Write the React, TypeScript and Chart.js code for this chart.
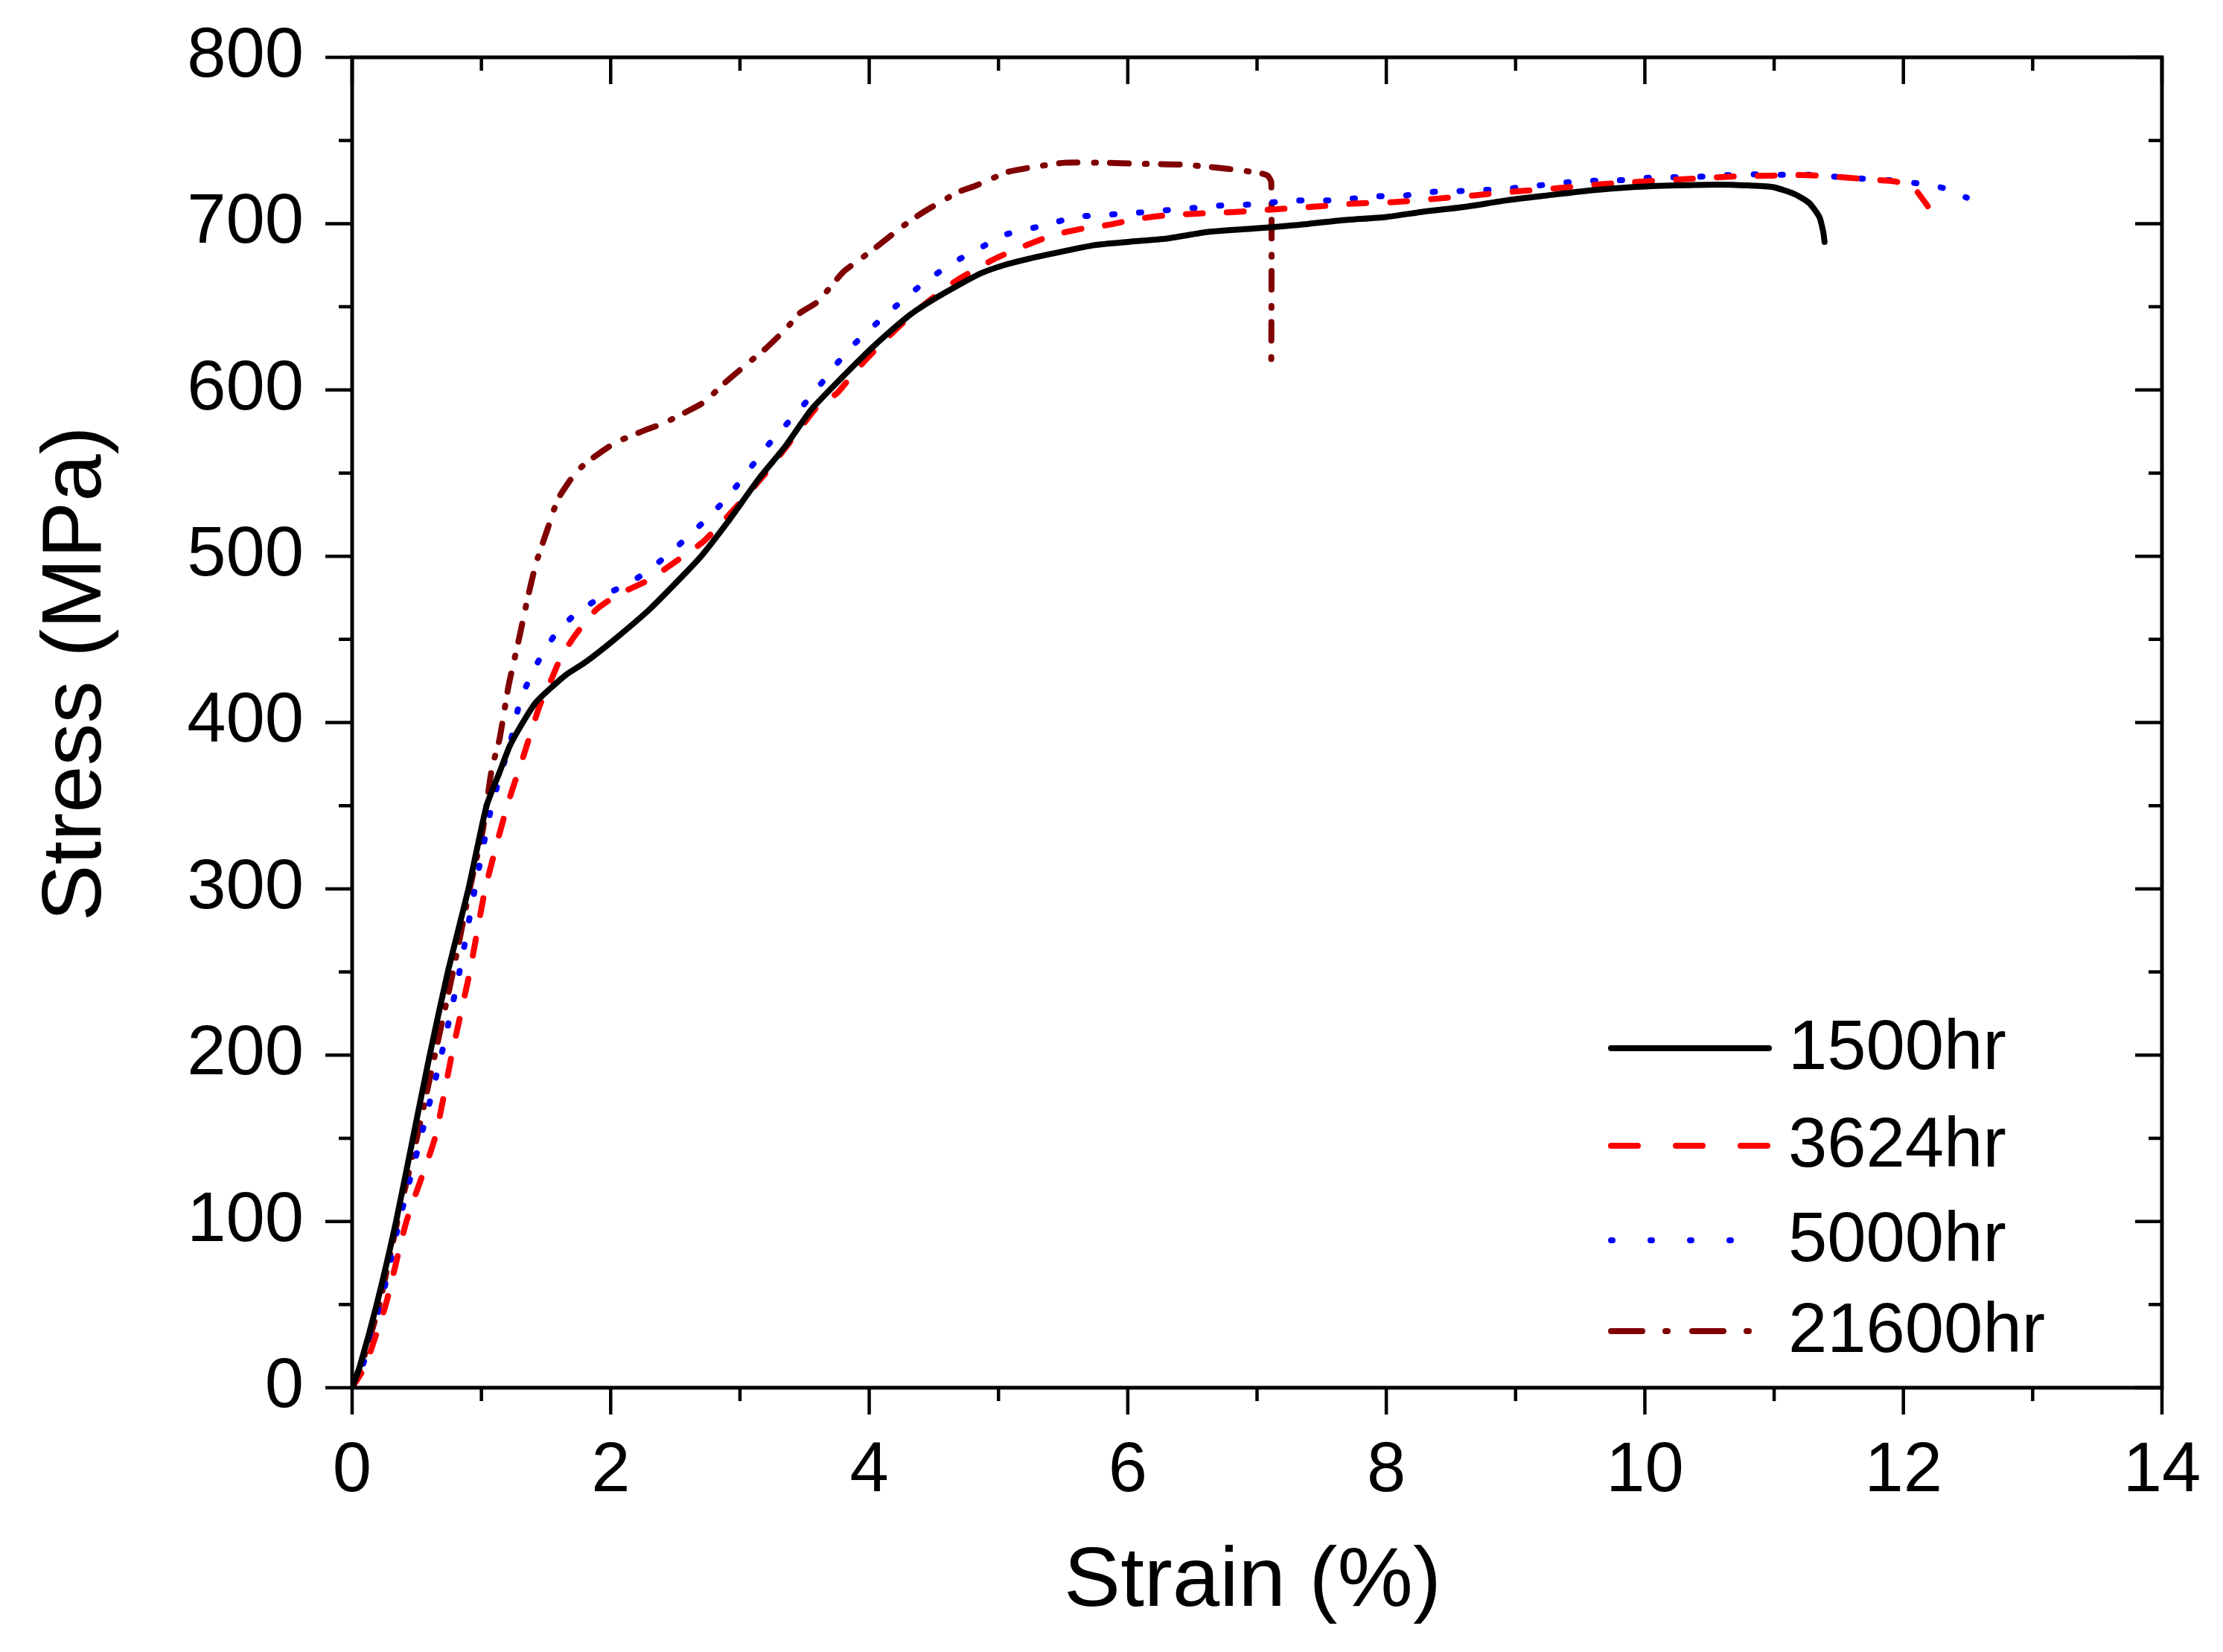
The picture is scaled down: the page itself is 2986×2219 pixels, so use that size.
import { useEffect, useRef } from "react";
import { Chart, registerables } from "chart.js";

Chart.register(...registerables);

const FONT = "'Liberation Sans', Arial, Helvetica, sans-serif";

// strain (%) and stress (MPa)
const strain1500 = [0, 0.06, 0.19, 0.34, 0.47, 0.6, 0.74, 0.9, 1.04, 1.14, 1.22, 1.32, 1.42, 1.54, 1.66, 1.8, 2.03, 2.3, 2.53, 2.7, 2.9, 3.15, 3.35, 3.55, 3.72, 3.95, 4.13, 4.33, 4.51, 4.69, 4.86, 5.04, 5.24, 5.48, 5.74, 6.0, 6.3, 6.62, 6.97, 7.29, 7.65, 8.0, 8.27, 8.6, 8.93, 9.25, 9.58, 9.91, 10.24, 10.57, 10.8, 10.99, 11.16, 11.27, 11.35, 11.38, 11.39];
const stress1500 = [0, 13, 50, 100, 150, 200, 250, 300, 350, 370, 386, 400, 412, 421, 429, 436, 450, 468, 486, 500, 520, 547, 566, 588, 602, 620, 633, 646, 655, 663, 670, 675, 679, 683, 687, 689, 691, 695, 697, 699, 702, 704, 707, 710, 714, 717, 720, 722, 723, 723.5, 723, 722, 717.7, 712.5, 704, 695, 689];

const strain3624 = [0, 0.1, 0.26, 0.42, 0.64, 0.77, 0.91, 1.03, 1.2, 1.33, 1.45, 1.52, 1.62, 1.74, 1.89, 2.06, 2.3, 2.56, 2.72, 2.94, 3.2, 3.38, 3.6, 3.75, 3.9, 4.07, 4.27, 4.42, 4.66, 4.95, 5.15, 5.42, 5.65, 5.83, 6.09, 6.3, 6.53, 6.83, 7.12, 7.41, 7.74, 8.07, 8.39, 8.68, 9.01, 9.34, 9.66, 10.0, 10.32, 10.67, 10.96, 11.1, 11.38, 11.73, 11.93, 12.07, 12.22];
const stress3624 = [0, 13, 50, 100, 150, 200, 250, 300, 350, 381, 410, 422, 440, 454, 468, 477, 486, 500, 509, 527, 550, 568, 590, 598, 612, 626, 641, 651, 665, 678, 685, 693, 697, 699, 703, 705, 706, 707, 708.5, 710, 712, 713, 715, 717, 719.4, 721.4, 723.7, 725.4, 726.8, 728.3, 728.8, 729.3, 728.8, 726.6, 725.4, 722.3, 707];

const strain5000 = [0, 0.08, 0.22, 0.365, 0.53, 0.69, 0.83, 0.95, 1.08, 1.23, 1.3, 1.42, 1.58, 1.74, 1.96, 2.15, 2.35, 2.56, 2.75, 2.91, 3.07, 3.23, 3.39, 3.57, 3.73, 3.89, 4.07, 4.26, 4.45, 4.66, 4.85, 5.04, 5.18, 5.36, 5.59, 5.77, 5.98, 6.15, 6.36, 6.56, 6.74, 6.94, 7.15, 7.35, 7.56, 7.73, 7.94, 8.13, 8.34, 8.52, 8.71, 8.9, 9.08, 9.28, 9.47, 9.65, 9.85, 10.04, 10.24, 10.46, 10.68, 10.88, 11.14, 11.34, 11.51, 11.93, 12.11, 12.31, 12.49];
const stress5000 = [0, 13, 50, 100, 150, 200, 250, 300, 350, 390, 413, 434, 454, 466, 477, 484, 495, 509, 523, 536, 552, 568, 582, 598, 614, 628, 641, 654, 666, 677, 685, 693, 696, 699, 704, 705, 706, 707, 708.5, 709.7, 711, 711.5, 713, 714, 714, 715, 716.5, 716.8, 719, 719.4, 720.2, 720.6, 722.3, 723.7, 725.4, 725.9, 726.2, 727.6, 727.9, 728.3, 729.3, 729.6, 729.3, 729.3, 727.9, 725.9, 724.2, 721.4, 715.6];

const strain21600 = [0, 0.07, 0.21, 0.35, 0.5, 0.64, 0.78, 0.91, 1.01, 1.08, 1.14, 1.21, 1.29, 1.35, 1.42, 1.51, 1.59, 1.68, 1.75, 1.86, 2.03, 2.24, 2.41, 2.59, 2.73, 2.85, 3.03, 3.2, 3.36, 3.46, 3.6, 3.8, 3.92, 4.04, 4.27, 4.42, 4.69, 4.83, 5.07, 5.27, 5.51, 5.8, 6.09, 6.42, 6.77, 7.0, 7.08, 7.11, 7.11];
const stress21600 = [0, 13, 50, 100, 150, 200, 250, 300, 335, 372, 390, 422, 450, 472, 495, 516, 534, 545, 552, 559, 568, 575, 580, 587, 593, 602, 614, 625, 637, 646, 653, 671, 678, 685, 699, 707, 719, 723, 731, 734, 736.6, 736.6, 736, 735.5, 733, 730.7, 729, 725, 612];

const seriesNames = ["1500hr", "3624hr", "5000hr", "21600hr"];
const seriesStrain = [strain1500, strain3624, strain5000, strain21600];
const seriesStress = [stress1500, stress3624, stress5000, stress21600];

const xTickValues = [0, 2, 4, 6, 8, 10, 12, 14];
const yTickValues = [0, 100, 200, 300, 400, 500, 600, 700, 800];

// styles
const colors = ["#000000", "#ff0000", "#0000ff", "#800000"];
const curveDash = [[], [23, 32], [3, 33], [25, 22, 2.5, 19]];
const legendDash = [[], [36, 51], [2, 51], [42, 31, 3, 33]];

const framePlugin = {
  id: "frame",
  afterDraw(chart: any) {
    const { ctx, chartArea: a, scales } = chart;
    const xs = scales.x;
    const ys = scales.y;
    ctx.save();
    ctx.strokeStyle = "#000";
    ctx.lineWidth = 5;
    ctx.strokeRect(a.left, a.top, a.right - a.left, a.bottom - a.top);

    ctx.lineWidth = 4.5;
    ctx.beginPath();
    for (let v = 0; v <= 14; v += 1) {
      const px = xs.getPixelForValue(v);
      const len = v % 2 === 0 ? 36 : 18;
      ctx.moveTo(px, a.bottom);
      ctx.lineTo(px, a.bottom + len);
      ctx.moveTo(px, a.top);
      ctx.lineTo(px, a.top + len);
    }
    for (let v = 0; v <= 800; v += 50) {
      const py = ys.getPixelForValue(v);
      const len = v % 100 === 0 ? 36 : 18;
      ctx.moveTo(a.left, py);
      ctx.lineTo(a.left - len, py);
      ctx.moveTo(a.right, py);
      ctx.lineTo(a.right - len, py);
    }
    ctx.stroke();

    // axis titles
    ctx.fillStyle = "#000";
    ctx.font = `114px ${FONT}`;
    ctx.textAlign = "center";
    ctx.textBaseline = "alphabetic";
    ctx.fillText("Strain (%)", (a.left + a.right) / 2 - 6, 2157);
    ctx.translate(135, 905);
    ctx.rotate(-Math.PI / 2);
    ctx.fillText("Stress (MPa)", 0, 0);
    ctx.restore();

    // legend
    ctx.save();
    ctx.font = `94px ${FONT}`;
    ctx.textAlign = "left";
    ctx.textBaseline = "middle";
    const rows = [1408, 1539, 1666, 1788];
    seriesNames.forEach((name, i) => {
      const y = rows[i];
      ctx.strokeStyle = colors[i];
      ctx.lineWidth = 8;
      ctx.lineCap = "round";
      ctx.setLineDash(legendDash[i]);
      ctx.beginPath();
      ctx.moveTo(2164, y);
      ctx.lineTo(2376, y);
      ctx.stroke();
      ctx.setLineDash([]);
      ctx.fillStyle = "#000";
      ctx.fillText(name, 2402, y + 2);
    });
    ctx.restore();
  },
};

const noPadding = (scale: any) => {
  scale.paddingTop = 0;
  scale.paddingBottom = 0;
  scale.paddingLeft = 0;
  scale.paddingRight = 0;
};

export default function App() {
  const canvasRef = useRef<HTMLCanvasElement | null>(null);

  useEffect(() => {
    if (!canvasRef.current) return;
    document.body.style.margin = "0";

    const datasets = seriesNames.map((name, i) => ({
      label: name,
      data: seriesStrain[i].map((s, k) => ({ x: s, y: seriesStress[i][k] })),
      showLine: true,
      borderColor: colors[i],
      backgroundColor: colors[i],
      borderWidth: 8,
      borderDash: curveDash[i],
      borderCapStyle: "round" as const,
      borderJoinStyle: "round" as const,
      pointRadius: 0,
      tension: 0.2,
    }));

    const chart = new Chart(canvasRef.current, {
      type: "scatter",
      data: { datasets },
      options: {
        animation: false,
        responsive: true,
        maintainAspectRatio: false,
        devicePixelRatio: 1,
        layout: { padding: { left: 0, top: 77, right: 82, bottom: 0 } },
        plugins: {
          legend: { display: false },
          tooltip: { enabled: false },
        },
        scales: {
          x: {
            type: "linear",
            min: 0,
            max: 14,
            grid: { display: false, drawTicks: false },
            border: { display: false },
            afterBuildTicks: (scale: any) => {
              scale.ticks = xTickValues.map((v) => ({ value: v }));
            },
            afterFit: (scale: any) => {
              scale.height = 2219 - 1864;
              noPadding(scale);
            },
            ticks: {
              color: "#000",
              padding: 57,
              maxRotation: 0,
              font: { family: FONT, size: 94 },
            },
          },
          y: {
            type: "linear",
            min: 0,
            max: 800,
            grid: { display: false, drawTicks: false },
            border: { display: false },
            afterBuildTicks: (scale: any) => {
              scale.ticks = yTickValues.map((v) => ({ value: v }));
            },
            afterFit: (scale: any) => {
              scale.width = 473;
              noPadding(scale);
            },
            ticks: {
              color: "#000",
              padding: 65,
              font: { family: FONT, size: 94 },
            },
          },
        },
      },
      plugins: [framePlugin],
    });

    return () => chart.destroy();
  }, []);

  return (
    <div
      style={{
        position: "fixed",
        left: 0,
        top: 0,
        width: 2986,
        height: 2219,
        background: "#fff",
      }}
    >
      <canvas ref={canvasRef}></canvas>
    </div>
  );
}
